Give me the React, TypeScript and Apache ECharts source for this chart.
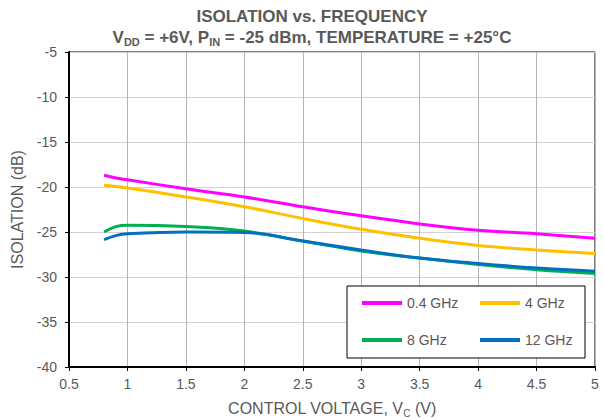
import React, { useEffect, useRef } from "react";
import * as echarts from "echarts";

const voltages = [0.8, 0.9, 1.0, 1.5, 2.0, 2.5, 3.0, 3.5, 4.0, 4.5, 5.0];
const iso04 = [-18.7, -19.0, -19.2, -20.2, -21.1, -22.2, -23.2, -24.1, -24.8, -25.2, -25.7];
const iso4 = [-19.8, -19.95, -20.1, -21.1, -22.2, -23.5, -24.7, -25.7, -26.5, -27.0, -27.4];
const iso8 = [-25.0, -24.4, -24.25, -24.4, -24.9, -26.0, -27.1, -27.9, -28.6, -29.2, -29.6];
const iso12 = [-25.85, -25.4, -25.2, -25.0, -25.05, -26.0, -27.0, -27.9, -28.5, -29.0, -29.35];
const seriesNames = ["0.4 GHz", "4 GHz", "8 GHz", "12 GHz"];
const seriesColors = ["#FF00FF", "#FFC000", "#00B050", "#0070C0"];
const seriesValues = [iso04, iso4, iso8, iso12];

const FONT = "'Liberation Sans', Arial, sans-serif";
const GRAY = "#595959";

export default function App() {
  const ref = useRef<HTMLDivElement>(null);
  useEffect(() => {
    if (!ref.current) return;
    const chart = echarts.init(ref.current, undefined, { renderer: "svg" });
    const option: any = {
      animation: false,
      backgroundColor: "#ffffff",
      textStyle: { fontFamily: FONT },
      grid: {
        left: 69,
        top: 52,
        width: 526,
        height: 315,
        show: true,
        borderColor: "#000000",
        borderWidth: 1,
        backgroundColor: "transparent",
        containLabel: false,
        outerBoundsMode: "none",
      },
      graphic: [
        {
          type: "text",
          x: 312,
          y: 8,
          style: {
            text: "ISOLATION vs. FREQUENCY",
            align: "center",
            fontFamily: FONT,
            fontSize: 17,
            fontWeight: "bold",
            fill: GRAY,
          },
        },
        {
          type: "text",
          x: 312,
          y: 27,
          style: {
            text: "{n|V}{s|DD}{n| = +6V, P}{s|IN}{n| = -25 dBm, TEMPERATURE = +25°C}",
            align: "center",
            fontFamily: FONT,
            fill: GRAY,
            rich: {
              n: { fontSize: 17, fontWeight: "bold", lineHeight: 20, fill: GRAY, fontFamily: FONT },
              s: {
                fontSize: 11,
                fontWeight: "bold",
                lineHeight: 12,
                verticalAlign: "bottom",
                padding: [6, 0, 0, 0],
                fill: GRAY,
                fontFamily: FONT,
              },
            },
          },
        },
        {
          type: "rect",
          z: 100,
          shape: { x: 347, y: 286, width: 238, height: 72 },
          style: { fill: "#ffffff", stroke: "#000000", lineWidth: 1 },
        },
      ],
      legend: {
        z: 110,
        left: 362,
        top: 286.5,
        width: 240,
        padding: 0,
        itemGap: 4,
        itemWidth: 40,
        itemHeight: 4,
        icon: "rect",
        data: seriesNames,
        textStyle: {
          fontFamily: FONT,
          fontSize: 14,
          color: GRAY,
          width: 69,
          lineHeight: 33,
        },
      },
      xAxis: {
        type: "value",
        min: 0.5,
        max: 5,
        interval: 0.5,
        name: "{n|CONTROL VOLTAGE, V}{s|C}{n| (V)}",
        nameLocation: "middle",
        nameGap: 31,
        nameTextStyle: {
          fontFamily: FONT,
          fontSize: 16,
          color: GRAY,
          rich: {
            n: { fontSize: 16, color: GRAY, fontFamily: FONT, lineHeight: 20 },
            s: { fontSize: 10, color: GRAY, fontFamily: FONT, verticalAlign: "bottom", padding: [6, 0, 0, 0], lineHeight: 12 },
          },
        },
        axisLine: { show: true, lineStyle: { color: "#000000", width: 2 } },
        axisTick: { show: true, length: 4, lineStyle: { color: "#000000", width: 1 } },
        axisLabel: { color: GRAY, fontSize: 14, fontFamily: FONT, margin: 10 },
        splitLine: { show: true, lineStyle: { color: "#b5b5b5", width: 1 } },
      },
      yAxis: {
        type: "value",
        min: -40,
        max: -5,
        interval: 5,
        name: "ISOLATION (dB)",
        nameLocation: "middle",
        nameRotate: 90,
        nameGap: 42,
        nameTextStyle: { fontFamily: FONT, fontSize: 16, color: GRAY },
        axisLine: { show: true, lineStyle: { color: "#000000", width: 2 } },
        axisTick: { show: true, length: 4, lineStyle: { color: "#000000", width: 1 } },
        axisLabel: { color: GRAY, fontSize: 14, fontFamily: FONT, margin: 12 },
        splitLine: { show: true, lineStyle: { color: "#d3d3d3", width: 1 } },
      },
      series: seriesNames.map((name, i) => ({
        name,
        type: "line",
        data: voltages.map((v, j) => [v, seriesValues[i][j]]),
        smooth: 0.4,
        showSymbol: false,
        symbol: "none",
        color: seriesColors[i],
        lineStyle: { color: seriesColors[i], width: 3 },
        z: 3 + i,
      })),
    };
    chart.setOption(option);
    return () => chart.dispose();
  }, []);
  return (
    <div
      ref={ref}
      style={{ position: "absolute", left: 0, top: 0, width: 604, height: 419 }}
    />
  );
}
